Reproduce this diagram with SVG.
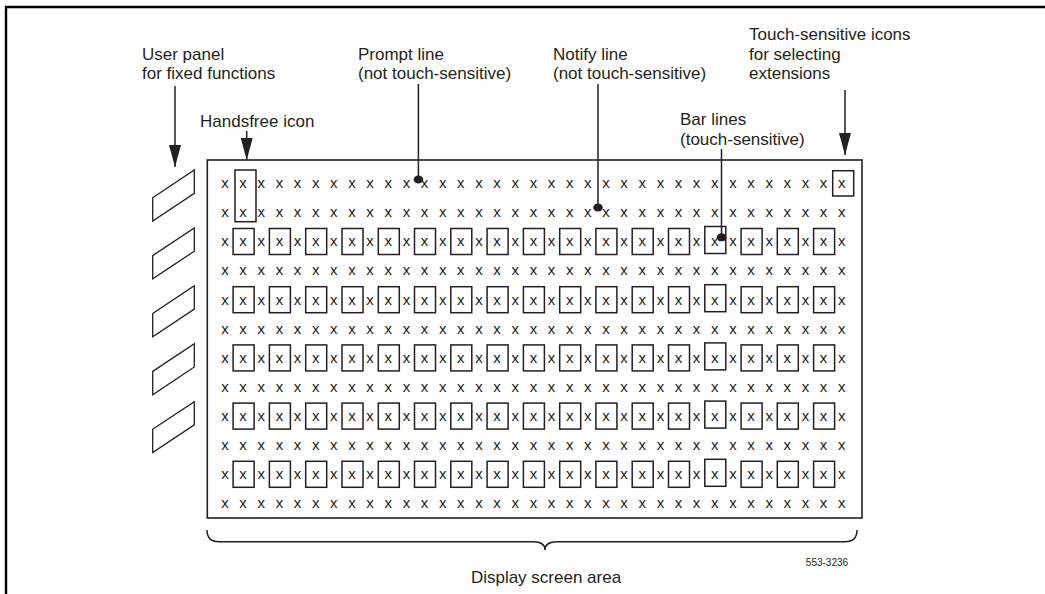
<svg xmlns="http://www.w3.org/2000/svg" xmlns:xlink="http://www.w3.org/1999/xlink" width="1045" height="594" viewBox="0 0 1045 594">
<style>
  .lbl{font-family:"Liberation Sans",Arial,sans-serif;font-size:17px;fill:#231f20}
  .gx{font-family:"Liberation Sans",Arial,sans-serif;font-size:15px;fill:#231f20;text-anchor:middle}
  .ln{stroke:#231f20;stroke-width:1.5;fill:none}
  .box{stroke:#231f20;stroke-width:1.5;fill:none}
  .key{stroke:#231f20;stroke-width:1.3;fill:#fff}
  .dot{fill:#231f20}
</style>
<defs>
  <rect id="k" x="-10" y="-14" width="21" height="26" class="box"/>
  <rect id="k2" x="-10" y="-16" width="21" height="27" class="box"/>
  <marker id="ah" markerUnits="userSpaceOnUse" markerWidth="24" markerHeight="12" refX="22" refY="6" orient="auto">
    <path d="M0,0 L22,6 L0,12 z" fill="#231f20"/>
  </marker>
</defs>
<rect width="1045" height="594" fill="#fff"/>
<g id="frame"><path d="M6,594 V7 H1045" fill="none" stroke="#000" stroke-width="2.4"/></g>

<g id="user-panel-keys">
  <polygon class="key" points="152.7,197.7 194.3,170 194.3,193.3 152.7,221"/>
  <polygon class="key" points="152.7,255.6 194.3,227.9 194.3,251.2 152.7,278.9"/>
  <polygon class="key" points="152.7,313.5 194.3,285.8 194.3,309.1 152.7,336.8"/>
  <polygon class="key" points="152.7,371.4 194.3,343.7 194.3,367 152.7,394.7"/>
  <polygon class="key" points="152.7,429.3 194.3,401.6 194.3,424.9 152.7,452.6"/>
</g>

<g id="display-screen">
  <rect x="207.3" y="160" width="654.7" height="358" fill="none" stroke="#231f20" stroke-width="1.6"/>
  <g id="grid-text">
    <text class="gx" y="188.1" x="225 243.1 261.3 279.4 297.6 315.7 333.8 352 370.1 388.3 406.4 424.5 442.7 460.8 479 497.1 515.2 533.4 551.5 569.7 587.8 605.9 624.1 642.2 660.4 678.5 696.6 714.8 732.9 751.1 769.2 787.3 805.5 823.6 841.8">xxxxxxxxxxxxxxxxxxxxxxxxxxxxxxxxxxx</text>
    <text class="gx" y="217.2" x="225 243.1 261.3 279.4 297.6 315.7 333.8 352 370.1 388.3 406.4 424.5 442.7 460.8 479 497.1 515.2 533.4 551.5 569.7 587.8 605.9 624.1 642.2 660.4 678.5 696.6 714.8 732.9 751.1 769.2 787.3 805.5 823.6 841.8">xxxxxxxxxxxxxxxxxxxxxxxxxxxxxxxxxxx</text>
    <text class="gx" y="246.3" x="225 243.1 261.3 279.4 297.6 315.7 333.8 352 370.1 388.3 406.4 424.5 442.7 460.8 479 497.1 515.2 533.4 551.5 569.7 587.8 605.9 624.1 642.2 660.4 678.5 696.6 714.8 732.9 751.1 769.2 787.3 805.5 823.6 841.8">xxxxxxxxxxxxxxxxxxxxxxxxxxxxxxxxxxx</text>
    <text class="gx" y="275.4" x="225 243.1 261.3 279.4 297.6 315.7 333.8 352 370.1 388.3 406.4 424.5 442.7 460.8 479 497.1 515.2 533.4 551.5 569.7 587.8 605.9 624.1 642.2 660.4 678.5 696.6 714.8 732.9 751.1 769.2 787.3 805.5 823.6 841.8">xxxxxxxxxxxxxxxxxxxxxxxxxxxxxxxxxxx</text>
    <text class="gx" y="304.5" x="225 243.1 261.3 279.4 297.6 315.7 333.8 352 370.1 388.3 406.4 424.5 442.7 460.8 479 497.1 515.2 533.4 551.5 569.7 587.8 605.9 624.1 642.2 660.4 678.5 696.6 714.8 732.9 751.1 769.2 787.3 805.5 823.6 841.8">xxxxxxxxxxxxxxxxxxxxxxxxxxxxxxxxxxx</text>
    <text class="gx" y="333.6" x="225 243.1 261.3 279.4 297.6 315.7 333.8 352 370.1 388.3 406.4 424.5 442.7 460.8 479 497.1 515.2 533.4 551.5 569.7 587.8 605.9 624.1 642.2 660.4 678.5 696.6 714.8 732.9 751.1 769.2 787.3 805.5 823.6 841.8">xxxxxxxxxxxxxxxxxxxxxxxxxxxxxxxxxxx</text>
    <text class="gx" y="362.7" x="225 243.1 261.3 279.4 297.6 315.7 333.8 352 370.1 388.3 406.4 424.5 442.7 460.8 479 497.1 515.2 533.4 551.5 569.7 587.8 605.9 624.1 642.2 660.4 678.5 696.6 714.8 732.9 751.1 769.2 787.3 805.5 823.6 841.8">xxxxxxxxxxxxxxxxxxxxxxxxxxxxxxxxxxx</text>
    <text class="gx" y="391.8" x="225 243.1 261.3 279.4 297.6 315.7 333.8 352 370.1 388.3 406.4 424.5 442.7 460.8 479 497.1 515.2 533.4 551.5 569.7 587.8 605.9 624.1 642.2 660.4 678.5 696.6 714.8 732.9 751.1 769.2 787.3 805.5 823.6 841.8">xxxxxxxxxxxxxxxxxxxxxxxxxxxxxxxxxxx</text>
    <text class="gx" y="420.9" x="225 243.1 261.3 279.4 297.6 315.7 333.8 352 370.1 388.3 406.4 424.5 442.7 460.8 479 497.1 515.2 533.4 551.5 569.7 587.8 605.9 624.1 642.2 660.4 678.5 696.6 714.8 732.9 751.1 769.2 787.3 805.5 823.6 841.8">xxxxxxxxxxxxxxxxxxxxxxxxxxxxxxxxxxx</text>
    <text class="gx" y="450" x="225 243.1 261.3 279.4 297.6 315.7 333.8 352 370.1 388.3 406.4 424.5 442.7 460.8 479 497.1 515.2 533.4 551.5 569.7 587.8 605.9 624.1 642.2 660.4 678.5 696.6 714.8 732.9 751.1 769.2 787.3 805.5 823.6 841.8">xxxxxxxxxxxxxxxxxxxxxxxxxxxxxxxxxxx</text>
    <text class="gx" y="479.1" x="225 243.1 261.3 279.4 297.6 315.7 333.8 352 370.1 388.3 406.4 424.5 442.7 460.8 479 497.1 515.2 533.4 551.5 569.7 587.8 605.9 624.1 642.2 660.4 678.5 696.6 714.8 732.9 751.1 769.2 787.3 805.5 823.6 841.8">xxxxxxxxxxxxxxxxxxxxxxxxxxxxxxxxxxx</text>
    <text class="gx" y="508.2" x="225 243.1 261.3 279.4 297.6 315.7 333.8 352 370.1 388.3 406.4 424.5 442.7 460.8 479 497.1 515.2 533.4 551.5 569.7 587.8 605.9 624.1 642.2 660.4 678.5 696.6 714.8 732.9 751.1 769.2 787.3 805.5 823.6 841.8">xxxxxxxxxxxxxxxxxxxxxxxxxxxxxxxxxxx</text>
  </g>
  <g id="handsfree-icon"><rect class="box" x="235" y="170" width="21" height="51.7"/></g>
  <g id="extension-icon"><rect class="box" x="832.7" y="170.7" width="21" height="25.3"/></g>
  <g id="bar-line-keys">
    <g id="bar-row-3">
      <use xlink:href="#k" x="243.1" y="242.5"/><use xlink:href="#k" x="279.4" y="242.5"/><use xlink:href="#k" x="315.7" y="242.5"/><use xlink:href="#k" x="352" y="242.5"/><use xlink:href="#k" x="388.3" y="242.5"/><use xlink:href="#k" x="424.5" y="242.5"/><use xlink:href="#k" x="460.8" y="242.5"/><use xlink:href="#k" x="497.1" y="242.5"/><use xlink:href="#k" x="533.4" y="242.5"/><use xlink:href="#k" x="569.7" y="242.5"/><use xlink:href="#k" x="605.9" y="242.5"/><use xlink:href="#k" x="642.2" y="242.5"/><use xlink:href="#k" x="678.5" y="242.5"/><use xlink:href="#k2" x="714.8" y="242.5"/><use xlink:href="#k" x="751.1" y="242.5"/><use xlink:href="#k" x="787.3" y="242.5"/><use xlink:href="#k" x="823.6" y="242.5"/>
    </g>
    <g id="bar-row-5">
      <use xlink:href="#k" x="243.1" y="300.7"/><use xlink:href="#k" x="279.4" y="300.7"/><use xlink:href="#k" x="315.7" y="300.7"/><use xlink:href="#k" x="352" y="300.7"/><use xlink:href="#k" x="388.3" y="300.7"/><use xlink:href="#k" x="424.5" y="300.7"/><use xlink:href="#k" x="460.8" y="300.7"/><use xlink:href="#k" x="497.1" y="300.7"/><use xlink:href="#k" x="533.4" y="300.7"/><use xlink:href="#k" x="569.7" y="300.7"/><use xlink:href="#k" x="605.9" y="300.7"/><use xlink:href="#k" x="642.2" y="300.7"/><use xlink:href="#k" x="678.5" y="300.7"/><use xlink:href="#k2" x="714.8" y="300.7"/><use xlink:href="#k" x="751.1" y="300.7"/><use xlink:href="#k" x="787.3" y="300.7"/><use xlink:href="#k" x="823.6" y="300.7"/>
    </g>
    <g id="bar-row-7">
      <use xlink:href="#k" x="243.1" y="358.9"/><use xlink:href="#k" x="279.4" y="358.9"/><use xlink:href="#k" x="315.7" y="358.9"/><use xlink:href="#k" x="352" y="358.9"/><use xlink:href="#k" x="388.3" y="358.9"/><use xlink:href="#k" x="424.5" y="358.9"/><use xlink:href="#k" x="460.8" y="358.9"/><use xlink:href="#k" x="497.1" y="358.9"/><use xlink:href="#k" x="533.4" y="358.9"/><use xlink:href="#k" x="569.7" y="358.9"/><use xlink:href="#k" x="605.9" y="358.9"/><use xlink:href="#k" x="642.2" y="358.9"/><use xlink:href="#k" x="678.5" y="358.9"/><use xlink:href="#k2" x="714.8" y="358.9"/><use xlink:href="#k" x="751.1" y="358.9"/><use xlink:href="#k" x="787.3" y="358.9"/><use xlink:href="#k" x="823.6" y="358.9"/>
    </g>
    <g id="bar-row-9">
      <use xlink:href="#k" x="243.1" y="417.1"/><use xlink:href="#k" x="279.4" y="417.1"/><use xlink:href="#k" x="315.7" y="417.1"/><use xlink:href="#k" x="352" y="417.1"/><use xlink:href="#k" x="388.3" y="417.1"/><use xlink:href="#k" x="424.5" y="417.1"/><use xlink:href="#k" x="460.8" y="417.1"/><use xlink:href="#k" x="497.1" y="417.1"/><use xlink:href="#k" x="533.4" y="417.1"/><use xlink:href="#k" x="569.7" y="417.1"/><use xlink:href="#k" x="605.9" y="417.1"/><use xlink:href="#k" x="642.2" y="417.1"/><use xlink:href="#k" x="678.5" y="417.1"/><use xlink:href="#k2" x="714.8" y="417.1"/><use xlink:href="#k" x="751.1" y="417.1"/><use xlink:href="#k" x="787.3" y="417.1"/><use xlink:href="#k" x="823.6" y="417.1"/>
    </g>
    <g id="bar-row-11">
      <use xlink:href="#k" x="243.1" y="475.3"/><use xlink:href="#k" x="279.4" y="475.3"/><use xlink:href="#k" x="315.7" y="475.3"/><use xlink:href="#k" x="352" y="475.3"/><use xlink:href="#k" x="388.3" y="475.3"/><use xlink:href="#k" x="424.5" y="475.3"/><use xlink:href="#k" x="460.8" y="475.3"/><use xlink:href="#k" x="497.1" y="475.3"/><use xlink:href="#k" x="533.4" y="475.3"/><use xlink:href="#k" x="569.7" y="475.3"/><use xlink:href="#k" x="605.9" y="475.3"/><use xlink:href="#k" x="642.2" y="475.3"/><use xlink:href="#k" x="678.5" y="475.3"/><use xlink:href="#k2" x="714.8" y="475.3"/><use xlink:href="#k" x="751.1" y="475.3"/><use xlink:href="#k" x="787.3" y="475.3"/><use xlink:href="#k" x="823.6" y="475.3"/>
    </g>
  </g>
</g>

<g id="labels">
  <g id="label-user-panel"><text class="lbl" x="142" y="59.5">User panel</text><text class="lbl" x="142" y="79">for fixed functions</text></g>
  <g id="label-handsfree"><text class="lbl" x="200" y="127">Handsfree icon</text></g>
  <g id="label-prompt"><text class="lbl" x="358" y="59.5">Prompt line</text><text class="lbl" x="358" y="79">(not touch-sensitive)</text></g>
  <g id="label-notify"><text class="lbl" x="553" y="59.5">Notify line</text><text class="lbl" x="553" y="79">(not touch-sensitive)</text></g>
  <g id="label-touch-icons"><text class="lbl" x="749" y="40">Touch-sensitive icons</text><text class="lbl" x="749" y="59.5">for selecting</text><text class="lbl" x="749" y="79">extensions</text></g>
  <g id="label-bar-lines"><text class="lbl" x="680" y="125">Bar lines</text><text class="lbl" x="680" y="144.5">(touch-sensitive)</text></g>
  <g id="label-display"><text class="lbl" x="546" y="583" text-anchor="middle">Display screen area</text></g>
  <g id="label-figure-number"><text x="827" y="565.5" text-anchor="middle" style="font-family:'Liberation Sans',Arial,sans-serif;font-size:10px;fill:#231f20">553-3236</text></g>
</g>

<g id="connectors">
  <line class="ln" x1="175" y1="86" x2="175" y2="167" stroke-width="2" marker-end="url(#ah)"/>
  <line class="ln" x1="246.7" y1="131" x2="246.7" y2="160" stroke-width="1.8" marker-end="url(#ah)"/>
  <line class="ln" x1="845" y1="90" x2="845" y2="155" stroke-width="2" marker-end="url(#ah)"/>
  <line class="ln" x1="418.4" y1="84" x2="418.4" y2="179.5"/>
  <ellipse class="dot" cx="418.4" cy="179.5" rx="4.8" ry="4"/>
  <line class="ln" x1="598" y1="84" x2="598" y2="207.5"/>
  <ellipse class="dot" cx="598" cy="207.5" rx="4.8" ry="4"/>
  <line class="ln" x1="721.5" y1="149" x2="721.5" y2="237.3"/>
  <ellipse class="dot" cx="721.5" cy="237.3" rx="4.8" ry="4"/>
  <path id="brace" class="ln" d="M207,530 Q207,541.7 219,541.7 L533,541.7 Q545,541.7 545,550 Q545,541.7 557,541.7 L845,541.7 Q857,541.7 857,530"/>
</g>
</svg>
